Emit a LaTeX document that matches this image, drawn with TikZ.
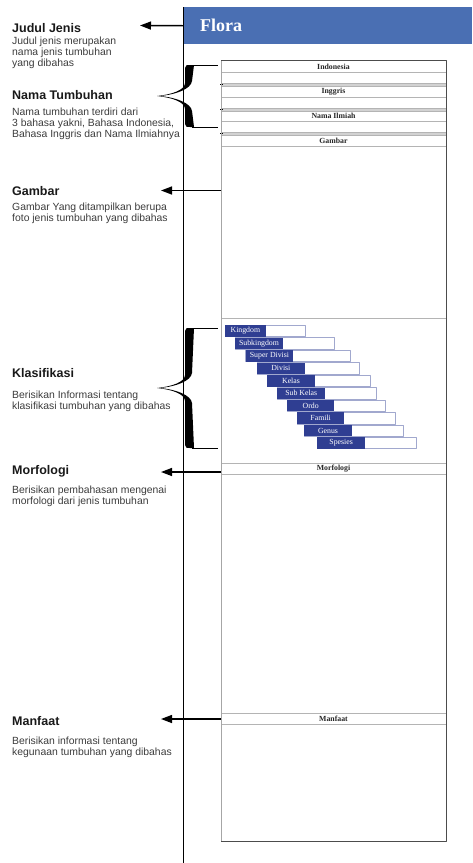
\documentclass[tikz,border=0pt]{standalone}
\usepackage{fontspec}
\setmainfont{Liberation Serif}
\newfontfamily\arialfont{Liberation Sans}
\usetikzlibrary{arrows.meta,positioning}

\definecolor{headblue}{HTML}{4A6FB3}
\definecolor{barblue}{HTML}{2F3E92}
\definecolor{descgray}{HTML}{3C3C3C}
\definecolor{rowgray}{HTML}{B4B4B4}

\tikzset{
  sidetitle/.style={anchor=base west, inner sep=0, text=black!90,
    font=\arialfont\bfseries\fontsize{12.5}{14}\selectfont},
  % multi-line: base anchor sits on the last line
  sidedesc/.style={anchor=base west, inner sep=0, align=left, text=descgray,
    font=\arialfont\fontsize{10.4}{10.7}\selectfont},
  rowlabel/.style={inner sep=0, text=black!85, font=\bfseries\fontsize{7.8}{9}\selectfont},
  barlabel/.style={inner sep=0, text=white, font=\fontsize{7.8}{9}\selectfont},
  pointer/.style={-{Triangle[length=11pt,width=8pt]}, line width=1.4pt},
}

% curly brace on the divider: #1 top, #2 bottom
\newcommand\bigbrace[2]{%
  \pgfmathsetmacro\bmid{(#1+#2)/2}
  \fill (190,#1) .. controls (186,#1) .. (185,#1+3) -- (185,\bmid-13)
    .. controls (185,\bmid-6) and (172,\bmid-1.5) .. (157,\bmid)
    .. controls (172,\bmid+1.5) and (185,\bmid+6) .. (185,\bmid+13) -- (185,#2-3)
    .. controls (186,#2) .. (190,#2) -- (194,#2)
    -- (192,\bmid+15) .. controls (191,\bmid+7) and (176,\bmid+1.5) .. (160,\bmid)
    .. controls (176,\bmid-1.5) and (191,\bmid-7) .. (192,\bmid-15) -- (194,#1) -- cycle;
  \draw[line width=0.7pt] (192,#1) -- (218,#1) (192,#2) -- (218,#2);
}

\begin{document}
\begin{tikzpicture}[x=1pt, y=-1pt, line join=round]
  \useasboundingbox (0,0) rectangle (472,863);
  % header
  \node[fill=headblue, anchor=north west, inner sep=0, minimum width=289pt, minimum height=37pt] (header) at (183,7) {};
  \node[anchor=west, inner sep=0, text=white, font=\bfseries\fontsize{18}{20}\selectfont] (flora) at (200,25.5) {Flora};
  \draw[line width=0.9pt] (183,7) -- (183,863);

  % page column
  \def\L{221} \def\R{446}
  \foreach \y in {72,97,121,146,318,463,474,713,724}
    \draw[rowgray, line width=0.8pt] (\L,\y) -- (\R,\y);
  \foreach \y in {83,108,132}{
    \fill[rowgray!60] (\L,\y) rectangle (\R,\y+3);
    \draw[rowgray, line width=0.6pt] (\L,\y) -- (\R,\y) (\L,\y+3) -- (\R,\y+3);
    \draw[line width=1pt] (\L-1,\y+1) -- (\L+1.5,\y+1);
  }
  \draw[gray!70, line width=1pt] (\L,60) -- (\L,841);
  \draw[black!70, line width=1pt] (\L,60) -- (\R,60) -- (\R,841) -- (\L,841);

  \node[rowlabel] (indonesia) at (333.5,66.5) {Indonesia};
  \node[rowlabel] (inggris) at (333.5,91.5) {Inggris};
  \node[rowlabel] (ilmiah) at (333.5,115.5) {Nama Ilmiah};
  \node[rowlabel] (gambar) at (333.5,140.5) {Gambar};
  \node[rowlabel] (morfologi) at (333.5,468.5) {Morfologi};
  \node[rowlabel] (manfaat) at (333.5,718.5) {Manfaat};

  % taxonomy bars
  \foreach \lab/\xa/\xb/\xc [count=\i from 0] in {Kingdom/225/265.7/305.7, Subkingdom/235.3/282.7/334,
      Super Divisi/245.7/293.3/350, Divisi/257/304.7/359.7, Kelas/267.3/314.7/370.7,
      Sub Kelas/277.3/325.3/376.3, Ordo/287/334.3/385.7, Famili/297/344.3/395.7,
      Genus/304.3/351.7/403, Spesies/317.3/365/416.7}{
    \pgfmathsetmacro\yt{325.3+12.45*\i}
    \draw[barblue!45, line width=0.6pt] (\xa,\yt) rectangle (\xc,\yt+11.4);
    \fill[barblue] (\xa,\yt) rectangle (\xb,\yt+11.4);
    \node[barlabel] (bar\i) at ({(\xa+\xb)/2},\yt+5.7) {\lab};
  }

  % left notes
  \node[sidetitle] (judul) at (12,32) {Judul Jenis};
  \node[sidedesc] (judul-d) at (12,66) {Judul jenis merupakan\\nama jenis tumbuhan\\yang dibahas};
  \node[sidetitle] (nama) at (12,99) {Nama Tumbuhan};
  \node[sidedesc] (nama-d) at (12,137) {Nama tumbuhan terdiri dari\\3 bahasa yakni, Bahasa Indonesia,\\Bahasa Inggris dan Nama Ilmiahnya};
  \node[sidetitle] (gambar-t) at (12,195.5) {Gambar};
  \node[sidedesc] (gambar-d) at (12,221) {Gambar Yang ditampilkan berupa\\foto jenis tumbuhan yang dibahas};
  \node[sidetitle] (klas) at (12,377) {Klasifikasi};
  \node[sidedesc] (klas-d) at (12,409.5) {Berisikan Informasi tentang\\klasifikasi tumbuhan yang dibahas};
  \node[sidetitle] (morf) at (12,474) {Morfologi};
  \node[sidedesc] (morf-d) at (12,504) {Berisikan pembahasan mengenai\\morfologi dari jenis tumbuhan};
  \node[sidetitle] (manf) at (12,725) {Manfaat};
  \node[sidedesc] (manf-d) at (12,755) {Berisikan informasi tentang\\kegunaan tumbuhan yang dibahas};

  % pointers
  \coordinate (judul-tip) at (140,25.5);
  \coordinate (gambar-src) at (\L,190.5);
  \coordinate (gambar-tip) at (161,190.5);
  \coordinate (morf-src) at (\L,472);
  \coordinate (morf-tip) at (161,472);
  \coordinate (manf-src) at (\L,719);
  \coordinate (manf-tip) at (161,719);
  \draw[pointer] (header.west) -- (judul-tip);
  \draw[pointer] (gambar-src) -- (gambar-tip);
  \draw[pointer] (morf-src) -- (morf-tip);
  \draw[pointer] (manf-src) -- (manf-tip);

  % braces
  \bigbrace{65}{127}
  \bigbrace{328}{448}
\end{tikzpicture}
\end{document}
